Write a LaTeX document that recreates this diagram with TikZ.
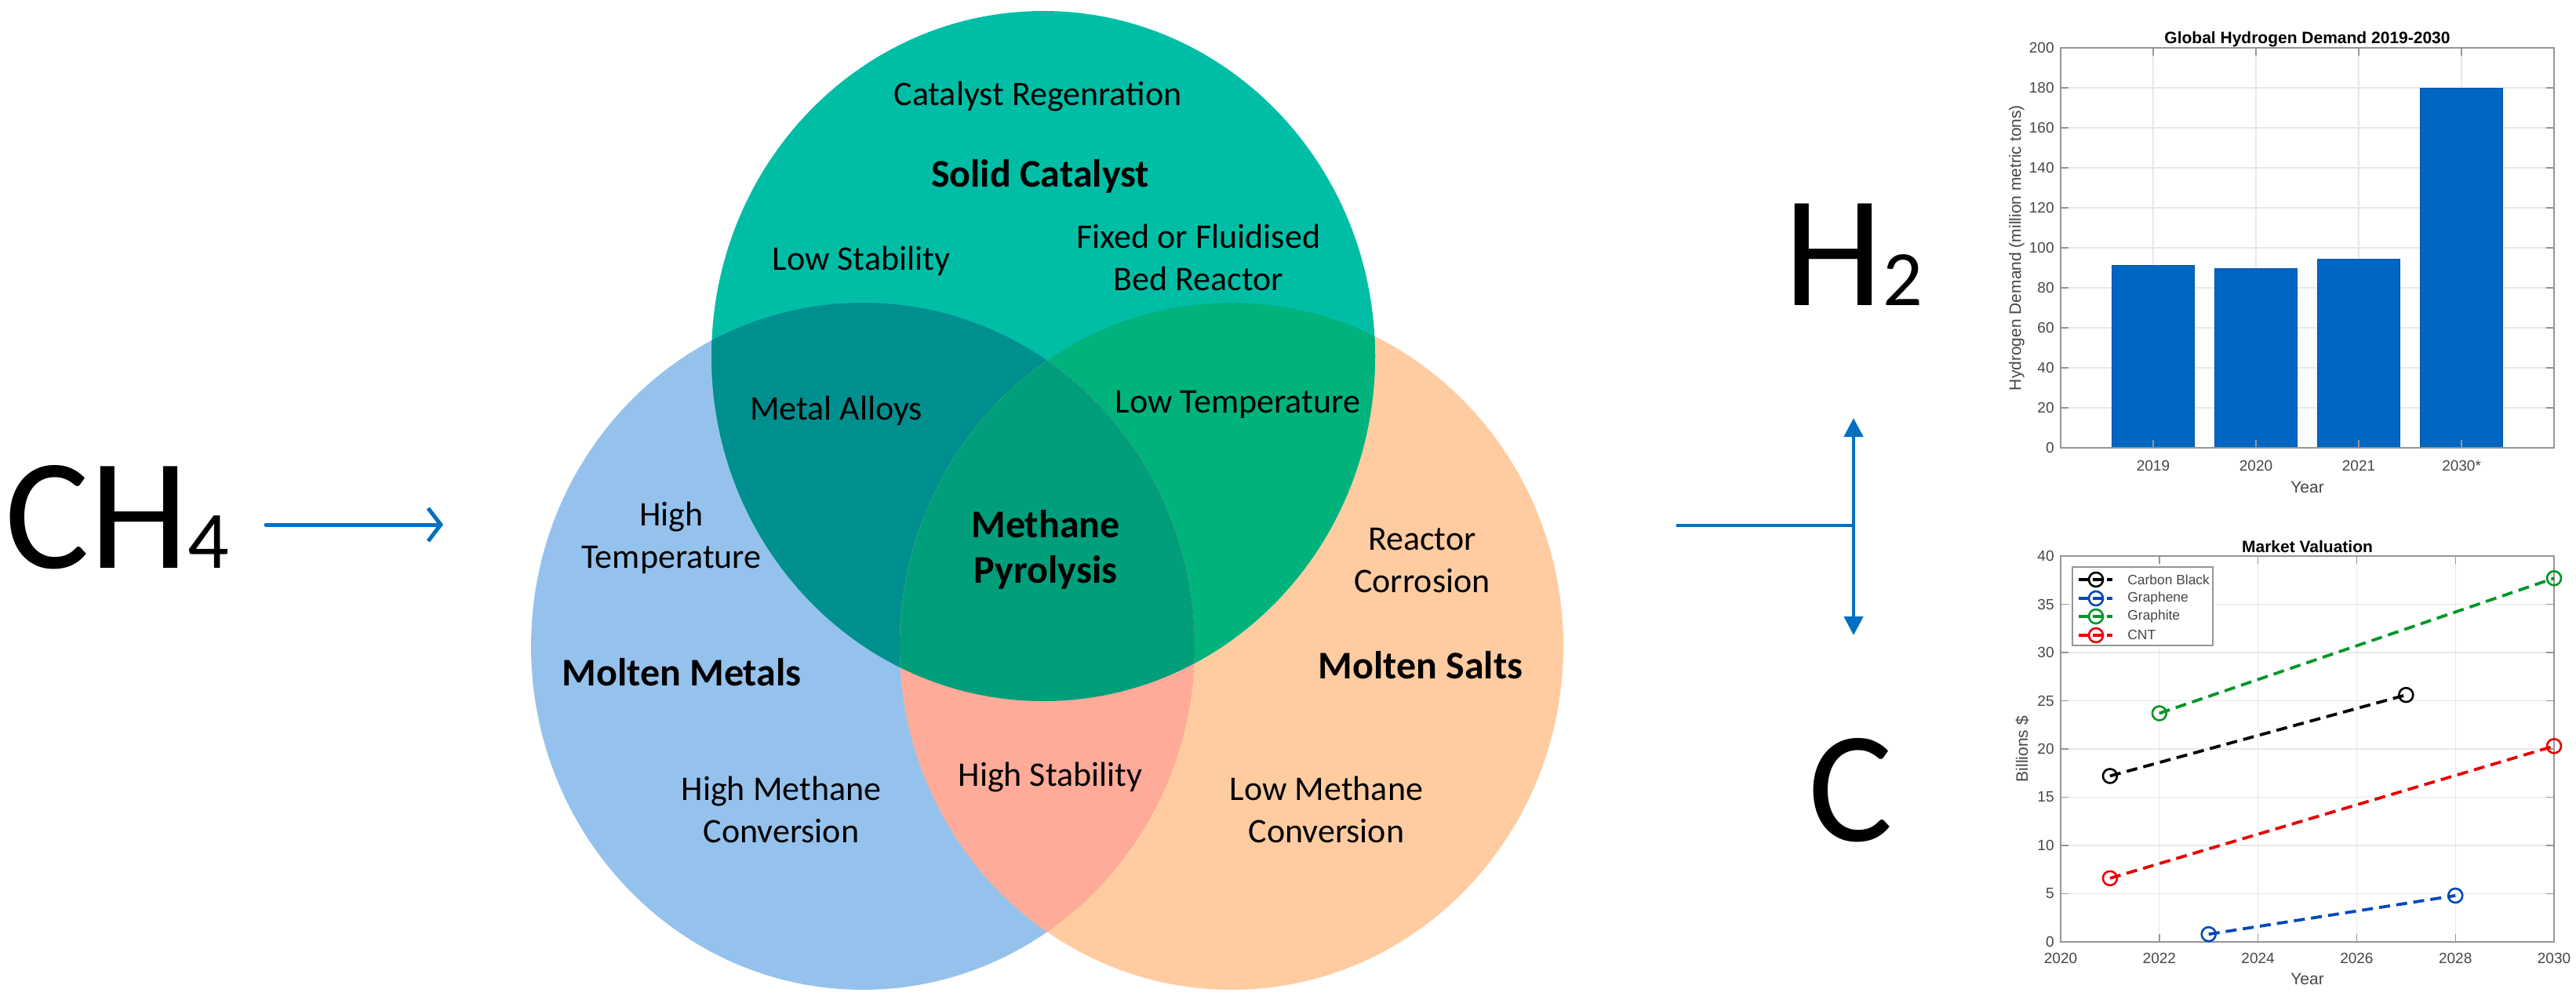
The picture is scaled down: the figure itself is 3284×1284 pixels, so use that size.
\documentclass[tikz,border=0pt]{standalone}
\usepackage{fontspec}
\setmainfont{Carlito}
\newfontfamily\chartfont{Liberation Sans}
\usetikzlibrary{arrows.meta}
\definecolor{cgreen}{RGB}{0,190,166}
\definecolor{cblue}{RGB}{149,194,236}
\definecolor{corange}{RGB}{255,204,161}
\definecolor{cbg}{RGB}{0,143,143}
\definecolor{cgo}{RGB}{0,178,124}
\definecolor{cbo}{RGB}{255,171,153}
\definecolor{call}{RGB}{0,158,122}
\definecolor{flowblue}{RGB}{0,112,192}
\definecolor{barblue}{RGB}{0,102,196}
\definecolor{gridc}{RGB}{232,232,232}
\definecolor{axc}{RGB}{150,150,150}
\definecolor{labc}{RGB}{70,70,70}
\definecolor{sblack}{RGB}{0,0,0}
\definecolor{sblue}{RGB}{0,72,186}
\definecolor{sgreen}{RGB}{0,150,40}
\definecolor{sred}{RGB}{232,0,0}
\begin{document}
\begin{tikzpicture}[x=0.5pt,y=-0.5pt,
  vtext/.style={inner sep=0pt,align=center,anchor=base,font=\fontsize{22pt}{27pt}\selectfont},
  vbold/.style={inner sep=0pt,align=center,anchor=base,font=\fontsize{25pt}{29pt}\selectfont\bfseries},
  formula/.style={inner sep=0pt,anchor=base west,font=\fontsize{101pt}{101pt}\selectfont},
  flow/.style={draw=flowblue,line width=2.5pt,line cap=round,line join=round},
  gridline/.style={draw=gridc,line width=0.6pt},
  axbox/.style={draw=axc,line width=0.7pt},
  ticklab/.style={inner sep=0pt,text=labc,font=\chartfont\fontsize{9.5pt}{11pt}\selectfont},
  axlab/.style={inner sep=0pt,text=labc,font=\chartfont\fontsize{10.5pt}{12pt}\selectfont},
  ctitle/.style={inner sep=0pt,anchor=base,font=\chartfont\fontsize{10.5pt}{12pt}\selectfont\bfseries},
  ser/.style={line width=1.9pt,dash pattern=on 7pt off 4pt},
  mk/.style={line width=1.3pt},
  legtext/.style={inner sep=0pt,anchor=west,text=labc,font=\chartfont\fontsize{8.7pt}{10pt}\selectfont}]
\useasboundingbox (0,0) rectangle (3284,1284);
\fill[white] (0,0) rectangle (3284,1284);

% ---------------- Venn diagram ----------------
\fill[cblue] (1100,824) ellipse [x radius=211.5pt,y radius=219pt];
\fill[corange] (1570,824) ellipse [x radius=211.5pt,y radius=219pt];
\fill[cgreen] (1330,454) ellipse [x radius=211.5pt,y radius=220pt];
\begin{scope}
  \clip (1100,824) ellipse [x radius=211.5pt,y radius=219pt];
  \fill[cbg] (1330,454) ellipse [x radius=211.5pt,y radius=220pt];
\end{scope}
\begin{scope}
  \clip (1570,824) ellipse [x radius=211.5pt,y radius=219pt];
  \fill[cgo] (1330,454) ellipse [x radius=211.5pt,y radius=220pt];
\end{scope}
\begin{scope}
  \clip (1100,824) ellipse [x radius=211.5pt,y radius=219pt];
  \fill[cbo] (1570,824) ellipse [x radius=211.5pt,y radius=219pt];
\end{scope}
\begin{scope}
  \clip (1100,824) ellipse [x radius=211.5pt,y radius=219pt];
  \clip (1570,824) ellipse [x radius=211.5pt,y radius=219pt];
  \fill[call] (1330,454) ellipse [x radius=211.5pt,y radius=220pt];
\end{scope}

% multi-line nodes: base anchor = baseline of the last line
\node[vtext] (regen) at (1323,134) {Catalyst Regenration};
\node[vbold] (solid) at (1326,238) {Solid Catalyst};
\node[vtext] (lowstab) at (1098,344) {Low Stability};
\node[vtext] (fixed) at (1528,370) {Fixed or Fluidised\\Bed Reactor};
\node[vtext] (alloys) at (1066,535) {Metal Alloys};
\node[vtext] (lowtemp) at (1578,526) {Low Temperature};
\node[vbold] (pyro) at (1333,743) {Methane\\Pyrolysis};
\node[vtext] (highstab) at (1339,1002) {High Stability};
\node[vtext] (hightemp) at (856,724) {High\\Temperature};
\node[vbold] (metals) at (869,874) {Molten Metals};
\node[vtext] (highconv) at (996,1074) {High Methane\\Conversion};
\node[vtext] (corr) at (1813,755) {Reactor\\Corrosion};
\node[vbold] (salts) at (1811,865) {Molten Salts};
\node[vtext] (lowconv) at (1691,1074) {Low Methane\\Conversion};

% ---------------- formulas and arrows ----------------
\node[formula] (ch4) at (6,724) {CH{\fontsize{52pt}{52pt}\selectfont 4}};
\node[formula] (h2) at (2274,389) {H{\fontsize{50pt}{50pt}\selectfont 2}};
\node[formula] (c) at (2305,1072) {C};
\coordinate (inS) at (339,669);
\coordinate (inE) at (565,669);
\draw[flow,-{Straight Barb[length=8pt,width=21pt]}] (inS) -- (inE);
\coordinate (outS) at (2137,670);
\coordinate (outJ) at (2363,670);
\coordinate (outU) at (2363,533);
\coordinate (outD) at (2363,810);
\draw[draw=flowblue,line width=2pt] (outS) -- (outJ);
\draw[draw=flowblue,line width=2.2pt,{Triangle[length=12pt,width=12pt]}-{Triangle[length=12pt,width=12pt]}] (outD) -- (outU);

% ---------------- Chart 1 ----------------
\begin{scope}[shift={(2613.9,571)},x={(65.52pt,0pt)},y={(0pt,1.275pt)}]
  \foreach \v in {20,40,...,180} \draw[gridline] (0.1,\v) -- (4.9,\v);
  \foreach \i in {1,...,4} \draw[gridline] (\i,0) -- (\i,200);
  \foreach \i/\v in {1/91.2,2/89.6,3/94.4,4/180}
    \filldraw[fill=barblue,draw=barblue!80!black,line width=0.4pt] (\i-0.4,0) rectangle (\i+0.4,\v);
  \draw[axbox] (0.1,0) rectangle (4.9,200);
  \foreach \v in {20,40,...,180} {
    \draw[axbox] (0.1,\v) -- ++(5pt,0pt);
    \draw[axbox] (4.9,\v) -- ++(-5pt,0pt);
  }
  \foreach \i in {1,...,4} {
    \draw[axbox] (\i,0) -- ++(0pt,5pt);
    \draw[axbox] (\i,200) -- ++(0pt,-5pt);
  }
  \foreach \v in {0,20,...,200}
    \node[ticklab,anchor=east,xshift=-4pt] (ya\v) at (0.1,\v) {\v};
  \foreach \i/\l in {1/2019,2/2020,3/2021,4/2030*}
    \node[ticklab,anchor=north,yshift=-8pt] (xa\i) at (\i,0) {\l};
  \node[ctitle,yshift=3pt] (t1) at (2.5,200) {Global Hydrogen Demand 2019-2030};
  \node[axlab,yshift=-25pt] (xl1) at (2.5,0) {Year};
  \node[axlab,xshift=-28pt,rotate=90] (yl1) at (0.1,100) {Hydrogen Demand (million metric tons)};
\end{scope}

% ---------------- Chart 2 ----------------
\begin{scope}[shift={(2627,1201)},x={(31.45pt,0pt)},y={(0pt,6.15pt)}]
  \foreach \v in {5,10,...,35} \draw[gridline] (0,\v) -- (10,\v);
  \foreach \k in {2,4,...,8} \draw[gridline] (\k,0) -- (\k,40);
  \draw[axbox] (0,0) rectangle (10,40);
  \foreach \v in {5,10,...,35} {
    \draw[axbox] (0,\v) -- ++(5pt,0pt);
    \draw[axbox] (10,\v) -- ++(-5pt,0pt);
  }
  \foreach \k in {2,4,...,8} {
    \draw[axbox] (\k,0) -- ++(0pt,5pt);
    \draw[axbox] (\k,40) -- ++(0pt,-5pt);
  }
  \foreach \v in {0,5,...,40}
    \node[ticklab,anchor=east,xshift=-4pt] (yb\v) at (0,\v) {\v};
  \foreach \k/\l in {0/2020,2/2022,4/2024,6/2026,8/2028,10/2030}
    \node[ticklab,anchor=north,yshift=-7pt] (xb\k) at (\k,0) {\l};
  \node[ctitle,yshift=2.5pt] (t2) at (5,40) {Market Valuation};
  \node[axlab,yshift=-23.5pt] (xl2) at (5,0) {Year};
  \node[axlab,xshift=-24.5pt,rotate=90] (yl2) at (0,20) {Billions \$};
  % series
  \draw[ser,sblack] (1,17.2) -- (7,25.6);
  \draw[ser,sblue] (3,0.8) -- (8,4.8);
  \draw[ser,sgreen] (2,23.7) -- (10,37.7);
  \draw[ser,sred] (1,6.6) -- (10,20.3);
  \foreach \px/\py/\cc in {1/17.2/sblack,7/25.6/sblack,3/0.8/sblue,8/4.8/sblue,2/23.7/sgreen,10/37.7/sgreen,1/6.6/sred,10/20.3/sred}
    \draw[mk,\cc] (\px,\py) circle[radius=4.5pt];
\end{scope}

% legend
\draw[draw=axc,fill=white,line width=0.7pt] (2642,723) rectangle (2821,823);
\foreach \yy/\cc/\nm/\tx in {739/sblack/lgA/Carbon Black,763/sblue/lgB/Graphene,786/sgreen/lgC/Graphite,810/sred/lgD/CNT} {
  \coordinate (\nm s) at (2650,\yy);
  \coordinate (\nm e) at (2693,\yy);
  \draw[ser,\cc,dash pattern=on 6pt off 3pt] (\nm s) -- (\nm e);
  \draw[mk,\cc] (2672,\yy) circle[radius=4.5pt];
  \node[legtext] (\nm) at (2712,\yy) {\tx};
}
\end{tikzpicture}
\end{document}
